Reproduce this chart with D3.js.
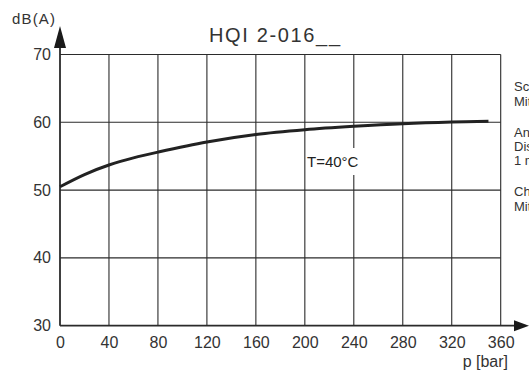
<!DOCTYPE html>
<html>
<head>
<meta charset="utf-8">
<script src="https://cdn.jsdelivr.net/npm/d3@7/dist/d3.min.js"></script>
<style>
  html, body { margin: 0; padding: 0; background: #fff; overflow: hidden; }
  svg { display: block; font-family: "Liberation Sans", Arial, sans-serif; }
</style>
</head>
<body>
<svg id="chart" width="529" height="372"></svg>
<script>
// pump noise curve
const pressure = [0, 20, 40, 60, 80, 120, 160, 200, 240, 280, 320, 350];
const noise = [50.5, 52.3, 53.7, 54.75, 55.6, 57.1, 58.2, 58.9, 59.4, 59.8, 60.05, 60.15];

const xTicks = [0, 40, 80, 120, 160, 200, 240, 280, 320, 360];
const yTicks = [30, 40, 50, 60, 70];
const sideNotes = [
    ['Schalldruckpegel', 91], ['Mittelwert', 106],
    ['Antriebsdrehzahl', 137], ['Distanz', 151], ['1 m', 165],
    ['Charakteristik', 196], ['Mittelwert', 211]
];

const svg = d3.select('#chart');
const ink = '#2b2b2b';

const x = d3.scaleLinear().domain([0, 360]).range([60, 500.7]);
const y = d3.scaleLinear().domain([30, 70]).range([325.7, 54.5]);

// grid
const grid = svg.append('g').attr('stroke', ink).attr('stroke-width', 1.1);
grid.selectAll('line.v')
    .data(xTicks.slice(1))
    .enter()
    .append('line')
    .attr('x1', d => x(d)).attr('x2', d => x(d))
    .attr('y1', y(30)).attr('y2', y(70));
grid.selectAll('line.h')
    .data(yTicks.slice(1))
    .enter()
    .append('line')
    .attr('x1', x(0)).attr('x2', x(360))
    .attr('y1', d => y(d)).attr('y2', d => y(d));

// axes with arrow heads
svg.append('line')
    .attr('x1', x(0)).attr('x2', x(0))
    .attr('y1', y(30)).attr('y2', 46)
    .attr('stroke', ink).attr('stroke-width', 1.8);
svg.append('line')
    .attr('x1', x(0)).attr('x2', 515)
    .attr('y1', y(30)).attr('y2', y(30))
    .attr('stroke', ink).attr('stroke-width', 1.8);
svg.append('path')
    .attr('d', `M${x(0) - 6},48 L${x(0)},26 L${x(0) + 6},48 Z`)
    .attr('fill', '#1a1a1a');
svg.append('path')
    .attr('d', `M514,${y(30) - 5.5} L529,${y(30)} L514,${y(30) + 5.5} Z`)
    .attr('fill', '#1a1a1a');

// tick labels
svg.append('g')
    .selectAll('text')
    .data(yTicks)
    .enter()
    .append('text')
    .attr('x', 51)
    .attr('y', d => y(d) + 5.5)
    .attr('text-anchor', 'end')
    .attr('font-size', 16)
    .attr('fill', '#333')
    .text(d => d);

svg.append('g')
    .selectAll('text')
    .data(xTicks)
    .enter()
    .append('text')
    .attr('x', d => x(d) + 0.5)
    .attr('y', 348)
    .attr('text-anchor', 'middle')
    .attr('font-size', 16)
    .attr('fill', '#333')
    .text(d => d);

svg.append('text')
    .attr('x', 508).attr('y', 367)
    .attr('text-anchor', 'end')
    .attr('font-size', 16)
    .attr('fill', '#333')
    .text('p [bar]');

svg.append('text')
    .attr('x', 12).attr('y', 24)
    .attr('font-size', 15)
    .attr('textLength', 43)
    .attr('fill', '#333')
    .text('dB(A)');

svg.append('text')
    .attr('x', 209).attr('y', 42)
    .attr('font-size', 20)
    .attr('textLength', 131)
    .attr('lengthAdjust', 'spacing')
    .attr('fill', '#333')
    .text('HQI 2-016__');

// curve
const line = d3.line()
    .x((d, i) => x(pressure[i]))
    .y(d => y(d))
    .curve(d3.curveCatmullRom);

svg.append('path')
    .datum(noise)
    .attr('d', line)
    .attr('fill', 'none')
    .attr('stroke', '#222')
    .attr('stroke-width', 3);

// curve label with white backing
svg.append('rect')
    .attr('x', 306).attr('y', 148)
    .attr('width', 66).attr('height', 27)
    .attr('fill', '#fff');
svg.append('text')
    .attr('x', 307).attr('y', 167)
    .attr('font-size', 15)
    .attr('fill', '#222')
    .text('T=40°C');

// notes cut off at the right edge, as in the source sheet
svg.append('g')
    .selectAll('text')
    .data(sideNotes)
    .enter()
    .append('text')
    .attr('x', 514)
    .attr('y', d => d[1])
    .attr('font-size', 13)
    .attr('fill', '#333')
    .text(d => d[0]);
</script>
</body>
</html>
